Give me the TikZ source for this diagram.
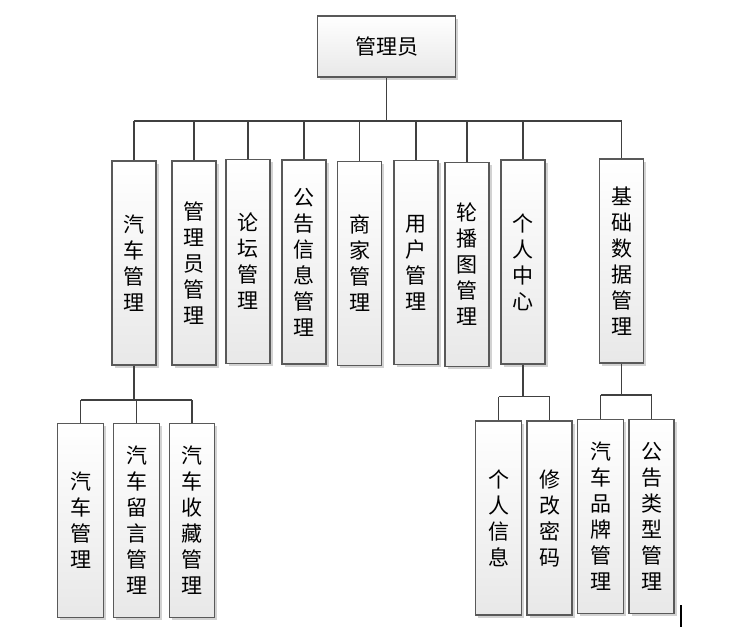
\documentclass[tikz,border=0pt]{standalone}
\usepackage{fontspec}
\newfontfamily\cjk{Noto Sans CJK SC}
\usetikzlibrary{shadows}
\begin{document}
\begin{tikzpicture}[x=1pt,y=-1pt,
  box/.style={draw=black!65, line width=1.1pt, top color=white, bottom color=black!9,
    inner sep=0pt, align=center, font=\cjk\fontsize{21}{26}\selectfont,
    drop shadow={shadow xshift=2.5pt, shadow yshift=-2.5pt, fill=black!35, opacity=.5}},
  tall/.style={box, minimum width=44pt, minimum height=204pt},
  sub/.style={box, minimum width=46pt, minimum height=194pt},
  link/.style={draw=black!75, line width=1.5pt}]
\useasboundingbox (0,0) rectangle (737,637);
% top
\node[box, minimum width=138pt, minimum height=61pt] (root) at (386.5,46.5) {管理员};
% level 2
\node[tall] (a1) at (134,263) {汽\\车\\管\\理};
\node[tall] (a2) at (194,263) {管\\理\\员\\管\\理};
\node[tall] (a3) at (248,261.5) {论\\坛\\管\\理};
\node[tall] (a4) at (304,262) {公\\告\\信\\息\\管\\理};
\node[tall] (a5) at (359.5,263.5) {商\\家\\管\\理};
\node[tall] (a6) at (416,262.5) {用\\户\\管\\理};
\node[tall] (a7) at (467,264.5) {轮\\播\\图\\管\\理};
\node[tall] (a8) at (523,262) {个\\人\\中\\心};
\node[tall] (a9) at (621.5,261) {基\\础\\数\\据\\管\\理};
% level 3
\node[sub] (b1) at (80.5,520.5) {汽\\车\\管\\理};
\node[sub] (b2) at (136.7,520.5) {汽\\车\\留\\言\\管\\理};
\node[sub, minimum width=45pt] (b3) at (192.2,520.5) {汽\\车\\收\\藏\\管\\理};
\node[sub] (c1) at (498.7,518) {个\\人\\信\\息};
\node[sub, minimum width=45pt] (c2) at (549.5,518) {修\\改\\密\\码};
\node[sub] (d1) at (600.7,516.3) {汽\\车\\品\\牌\\管\\理};
\node[sub, minimum width=45pt] (d2) at (651.5,516.3) {公\\告\\类\\型\\管\\理};
% bus levels
\coordinate (busA) at (0,121);
\coordinate (busB) at (0,400);
\coordinate (busC) at (0,396.7);
\coordinate (busD) at (0,395);
% connectors level 1-2
\draw[link] (root.south) -- (root.south |- busA);
\draw[link] (a1.north |- busA) -- (a9.north |- busA);
\foreach \n in {a1,a2,a3,a4,a5,a6,a7,a8,a9}{
  \draw[link] (\n.north) -- (\n.north |- busA);
}
% 汽车管理 children
\draw[link] (a1.south) -- (a1.south |- busB);
\draw[link] (b1.north |- busB) -- (b3.north |- busB);
\foreach \n in {b1,b2,b3}{ \draw[link] (\n.north) -- (\n.north |- busB); }
% 个人中心 children
\draw[link] (a8.south) -- (a8.south |- busC);
\draw[link] (c1.north |- busC) -- (c2.north |- busC);
\foreach \n in {c1,c2}{ \draw[link] (\n.north) -- (\n.north |- busC); }
% 基础数据管理 children
\draw[link] (a9.south) -- (a9.south |- busD);
\draw[link] (d1.north |- busD) -- (d2.north |- busD);
\foreach \n in {d1,d2}{ \draw[link] (\n.north) -- (\n.north |- busD); }
% cursor mark
\coordinate (k1) at (681,605);
\coordinate (k2) at (681,627);
\draw[line width=1.6pt] (k1) -- (k2);
\end{tikzpicture}
\end{document}
